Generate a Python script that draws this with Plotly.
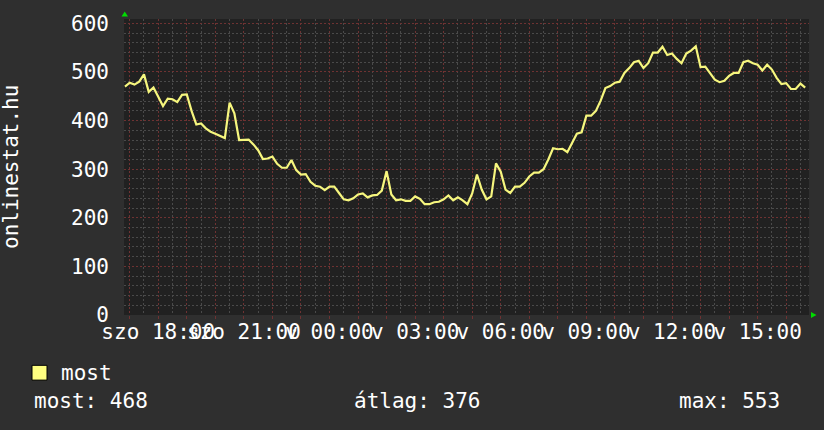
import plotly.graph_objects as go
import pandas as pd

# ---- data (10-minute samples starting Sat 16:50) ----
start_time = "2013-03-09 16:50"
most = [
    470, 478, 474, 480, 495, 459, 468, 450, 430, 445,
    444, 438, 453, 454, 420, 392, 394, 384, 377, 373,
    368, 364, 437, 415, 360, 360, 361, 351, 339, 321,
    322, 326, 311, 303, 303, 319, 298, 289, 290, 274,
    266, 264, 257, 264, 264, 251, 238, 236, 240, 248,
    250, 242, 246, 247, 256, 296, 248, 236, 238, 235,
    235, 244, 239, 228, 228, 232, 233, 238, 246, 236,
    242, 236, 228, 250, 289, 258, 238, 244, 312, 295,
    258, 251, 264, 264, 272, 285, 293, 293, 300, 320,
    343, 341, 342, 335, 355, 373, 376, 410, 410, 420,
    441, 467, 471, 478, 480, 498, 508, 520, 523, 508,
    518, 540, 540, 552, 535, 538, 527, 518, 538, 544,
    553, 510, 511, 498, 484, 479, 482, 492, 498, 498,
    520, 523, 518, 515, 503, 515, 505, 488, 475, 477,
    465, 465, 476, 468,
]
x_start = "2013-03-09 16:48"
x_end = "2013-03-10 16:48"
label_hours = [18, 21, 0, 3, 6, 9, 12, 15]
day_names = {"2013-03-09": "szo", "2013-03-10": "v"}
y_ticks = [0, 100, 200, 300, 400, 500, 600]
legend_name = "most"
stat_labels = ["most: 468", "átlag: 376", "max: 553"]
y_title = "onlinestat.hu"

times = pd.date_range(start_time, periods=len(most), freq="10min")
hour_ticks = pd.date_range("2013-03-09 17:00", "2013-03-10 16:00", freq="1h")
tick_text = []
for t in hour_ticks:
    if t.hour in label_hours:
        tick_text.append(f"{day_names[t.strftime('%Y-%m-%d')]} {t.strftime('%H:%M')}")
    else:
        tick_text.append("")

# ---- style ----
W, H = 824, 430
L, R, T, B = 124, 15, 15, 115
PW, PH = W - L - R, H - T - B
FONT = "DejaVu Sans Mono"
FS = 21
BG = "#2f2f2f"
PLOT_BG = "#212121"
MAJOR = "#6e3232"
MINOR = "#4a4a4a"
TXT = "#ffffff"
LINE = "#f6f67e"


def px(x):
    return (x - L) / PW


def py(y):
    return (T + PH - y) / PH


fig = go.Figure()
fig.add_trace(go.Scatter(
    x=times, y=most, mode="lines", name=legend_name,
    line=dict(color=LINE, width=2.2), showlegend=False, hoverinfo="skip",
))

fig.update_layout(
    width=W, height=H,
    margin=dict(l=L, r=R, t=T, b=B, pad=0),
    paper_bgcolor=BG, plot_bgcolor=PLOT_BG,
    font=dict(family=FONT, size=FS, color=TXT),
    showlegend=False,
)
fig.update_xaxes(
    range=[x_start, x_end], tickvals=hour_ticks, ticktext=tick_text,
    tickangle=0, showgrid=True, gridcolor=MAJOR, griddash="2px,2px", gridwidth=1,
    ticks="outside", ticklen=3, tickcolor=MAJOR, ticklabelstandoff=-5,
    minor=dict(dtick=1800000, tick0="2013-03-09 16:30", showgrid=True,
               gridcolor=MINOR, griddash="2px,2px", gridwidth=1, ticks=""),
    zeroline=False, showline=False,
    tickfont=dict(family=FONT, size=FS, color=TXT),
    fixedrange=True,
)
fig.update_yaxes(
    range=[0, 609], tickvals=y_ticks, showgrid=True, gridcolor=MAJOR,
    griddash="2px,2px", gridwidth=1, ticks="", ticklabelstandoff=14,
    minor=dict(dtick=20, tick0=0, showgrid=True, gridcolor=MINOR,
               griddash="2px,2px", gridwidth=1, ticks=""),
    zeroline=False, showline=False,
    tickfont=dict(family=FONT, size=FS, color=TXT),
    fixedrange=True,
)

ann = [
    dict(text=y_title, x=px(11), y=py(165), textangle=-90),
    dict(text=legend_name, x=px(58.5), y=py(373.5), xanchor="left"),
    dict(text=stat_labels[0], x=px(31.5), y=py(401.8), xanchor="left"),
    dict(text=stat_labels[1], x=px(352), y=py(401.8), xanchor="left"),
    dict(text=stat_labels[2], x=px(782), y=py(401.8), xanchor="right"),
]
for a in ann:
    a.update(xref="paper", yref="paper", showarrow=False,
             font=dict(family=FONT, size=FS, color=TXT))
    a.setdefault("xanchor", "center")
    a.setdefault("yanchor", "middle")
fig.update_layout(annotations=ann)

shapes = [
    # legend colour box
    dict(type="rect", xref="paper", yref="paper",
         x0=px(32), x1=px(47), y0=py(381), y1=py(366),
         fillcolor="#ffff80", line=dict(color="#000000", width=1)),
    # axis arrows
    dict(type="path", xref="paper", yref="paper",
         path=f"M {px(121.5)} {py(12.5)} L {px(128)} {py(12.5)} L {px(124.7)} {py(7.5)} Z",
         fillcolor="#00dd00", line=dict(width=0)),
    dict(type="path", xref="paper", yref="paper",
         path=f"M {px(811)} {py(312)} L {px(811)} {py(318)} L {px(816.5)} {py(315)} Z",
         fillcolor="#00dd00", line=dict(width=0)),
]
fig.update_layout(shapes=shapes)

fig.write_html(
    "out.html",
    config={"displayModeBar": False, "staticPlot": True},
    post_script="document.body.style.margin='0';document.body.style.background='%s';" % BG,
)
